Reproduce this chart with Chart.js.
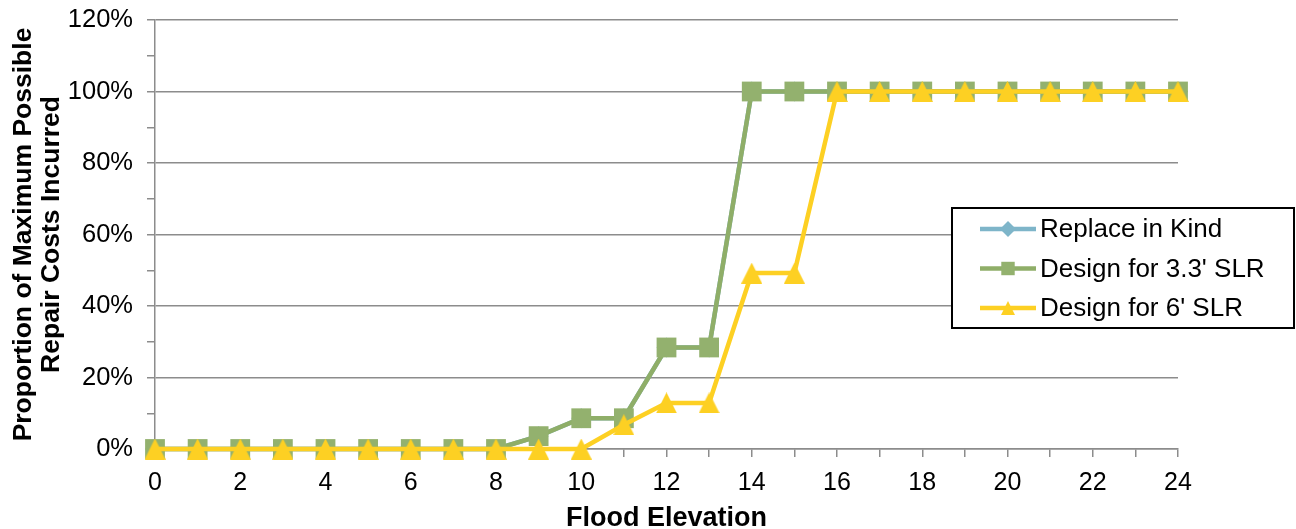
<!DOCTYPE html>
<html>
<head>
<meta charset="utf-8">
<script src="https://cdn.jsdelivr.net/npm/chart.js@4/dist/chart.umd.min.js"></script>
<style>
  html, body { margin: 0; padding: 0; background: #fff; }
  #wrap { width: 1296px; height: 529px; position: relative; }
</style>
</head>
<body>
<div id="wrap"><canvas id="c" width="1296" height="529"></canvas></div>
<script>
// Flood elevation (x) and share of maximum possible repair cost (%)
const elevations = [0,1,2,3,4,5,6,7,8,9,10,11,12,13,14,15,16,17,18,19,20,21,22,23,24];
const replaceInKind = [0,0,0,0,0,0,0,0,0,3.6,8.6,8.6,28.4,28.4,100,100,100,100,100,100,100,100,100,100,100];
const design33SLR   = [0,0,0,0,0,0,0,0,0,3.6,8.6,8.6,28.4,28.4,100,100,100,100,100,100,100,100,100,100,100];
const design6SLR    = [0,0,0,0,0,0,0,0,0,0,0,6.8,12.9,12.9,49.2,49.2,100,100,100,100,100,100,100,100,100];
const seriesNames = ['Replace in Kind', "Design for 3.3' SLR", "Design for 6' SLR"];
const yTickValues = [0, 20, 40, 60, 80, 100, 120];
const xLabelStep = 2;

const GRID = '#8c8c8c';
const BLUE = '#7eb5c9';
const GREEN = '#8fae68';
const GREEN_PT = '#93b16e';
const YELLOW = '#fdd023';

Chart.defaults.font.family = "'Liberation Sans', Arial, sans-serif";
Chart.defaults.color = '#000';

// Triangle marker centred on its bounding box
function triangleImage(size, color) {
  const cv = document.createElement('canvas');
  cv.width = size; cv.height = size;
  const g = cv.getContext('2d');
  g.fillStyle = color;
  g.beginPath();
  g.moveTo(size / 2, 0);
  g.lineTo(size, size);
  g.lineTo(0, size);
  g.closePath();
  g.fill();
  return cv;
}
const triBig = triangleImage(21, YELLOW);
const triSmall = triangleImage(14, YELLOW);

const pts = vals => elevations.map((x, i) => ({ x: x, y: vals[i] }));

const legendMarks = [
  { style: 'rectRot', radius: 8, color: BLUE },
  { style: 'rect', radius: 9.5, color: GREEN_PT },
  { style: triSmall, radius: 7, color: YELLOW }
];

// Boxed legend on the right-hand side of the plot
const boxLegend = {
  id: 'boxLegend',
  afterDraw(chart) {
    const ctx = chart.ctx;
    const x = 952, y = 208, w = 342, h = 120;
    ctx.save();
    ctx.fillStyle = '#fff';
    ctx.fillRect(x, y, w, h);
    ctx.lineWidth = 2;
    ctx.strokeStyle = '#000';
    ctx.strokeRect(x, y, w, h);
    chart.data.datasets.forEach((ds, i) => {
      const cy = y + 21 + i * 39.5;
      ctx.strokeStyle = ds.borderColor;
      ctx.lineWidth = 4.5;
      ctx.beginPath();
      ctx.moveTo(x + 28, cy);
      ctx.lineTo(x + 84, cy);
      ctx.stroke();
      const m = legendMarks[i];
      ctx.fillStyle = m.color;
      Chart.helpers.drawPoint(ctx, { pointStyle: m.style, radius: m.radius, rotation: 0, borderWidth: 0 }, x + 56, cy);
      ctx.fillStyle = '#000';
      ctx.font = "26px 'Liberation Sans', Arial, sans-serif";
      ctx.textBaseline = 'middle';
      ctx.textAlign = 'left';
      ctx.fillText(ds.label, x + 88, cy + 1);
    });
    ctx.restore();
  }
};

new Chart(document.getElementById('c'), {
  type: 'line',
  data: {
    datasets: [
      {
        label: seriesNames[0], data: pts(replaceInKind), order: 2,
        borderColor: BLUE, backgroundColor: BLUE, borderWidth: 4.5,
        pointStyle: 'rectRot', pointRadius: 10, pointBackgroundColor: BLUE, pointBorderWidth: 0,
        clip: false, tension: 0
      },
      {
        label: seriesNames[1], data: pts(design33SLR), order: 1,
        borderColor: GREEN, backgroundColor: GREEN_PT, borderWidth: 4.5,
        pointStyle: 'rect', pointRadius: 14, pointBackgroundColor: GREEN_PT, pointBorderWidth: 0,
        clip: false, tension: 0
      },
      {
        label: seriesNames[2], data: pts(design6SLR), order: 0,
        borderColor: YELLOW, backgroundColor: YELLOW, borderWidth: 4.5,
        pointStyle: triBig, pointRadius: 11, pointBorderWidth: 0,
        clip: false, tension: 0
      }
    ]
  },
  options: {
    responsive: false,
    animation: false,
    devicePixelRatio: 1,
    layout: { padding: { top: 20, right: 118, left: 0, bottom: 0 } },
    plugins: { legend: { display: false }, tooltip: { enabled: false } },
    elements: { point: { hoverRadius: 0 } },
    scales: {
      x: {
        type: 'linear', min: 0, max: 24,
        afterFit: s => { s.height = 80; s.paddingLeft = 0; s.paddingRight = 0; },
        border: { color: GRID, width: 1.5 },
        grid: { drawOnChartArea: false, tickLength: 8, color: GRID, tickColor: GRID, lineWidth: 1.5 },
        ticks: {
          stepSize: 1, autoSkip: false, maxRotation: 0, padding: 11,
          font: { size: 25 }, color: '#000',
          callback: v => (v % xLabelStep === 0 ? String(v) : '')
        },
        title: {
          display: true, text: 'Flood Elevation',
          font: { size: 27, weight: 'bold', lineHeight: 0.75 },
          padding: { top: 0, bottom: 0 }
        }
      },
      y: {
        min: 0, max: 120,
        afterFit: s => { s.width = 155; s.paddingTop = 0; s.paddingBottom = 0; },
        border: { color: GRID, width: 1.5 },
        grid: {
          tickLength: 8, tickColor: GRID, lineWidth: 1.5,
          color: c => (yTickValues.includes(c.tick.value) ? GRID : 'rgba(0,0,0,0)')
        },
        ticks: {
          stepSize: 10, padding: 14, font: { size: 25.5 }, color: '#000',
          callback: v => (yTickValues.includes(v) ? v + '%' : '')
        },
        title: {
          display: true, text: ['Proportion of Maximum Possible', 'Repair Costs Incurred'],
          font: { size: 26.5, weight: 'bold', lineHeight: 1.06 },
          padding: { top: 10, bottom: 0 }
        }
      }
    }
  },
  plugins: [boxLegend]
});
</script>
</body>
</html>
